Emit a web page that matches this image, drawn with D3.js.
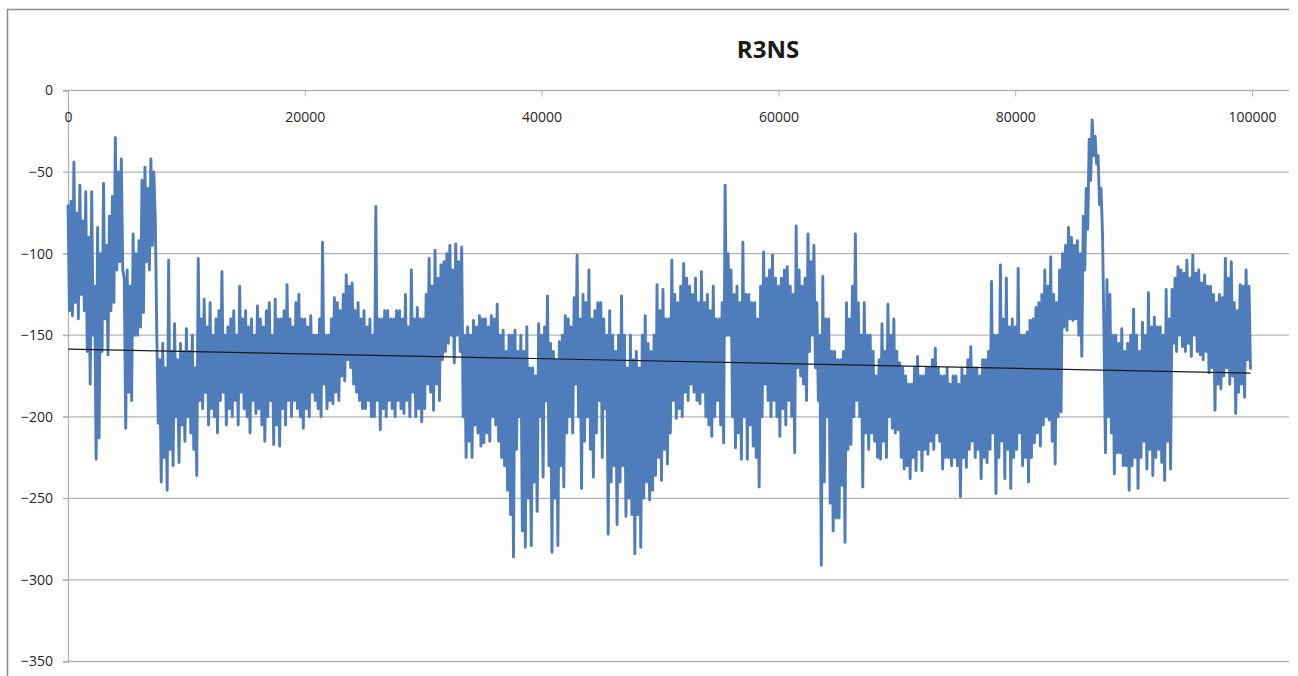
<!DOCTYPE html>
<html>
<head>
<meta charset="utf-8">
<script src="https://cdn.jsdelivr.net/npm/d3@7"></script>
<style>
  body { margin: 0; background: #fff; }
  text { font-family: "Open Sans", "Liberation Sans", sans-serif; }
</style>
</head>
<body>
<svg id="chart"></svg>
<script>
const chartTitle = "R3NS";
const xTicks = [0, 20000, 40000, 60000, 80000, 100000];
const yTicks = [0, -50, -100, -150, -200, -250, -300, -350];

// one reading every 125 samples
const sampleStep = 125;
const r3ns = [
  -70, -135, -68, -138, -44, -130, -75, -140, -58, -125, -80, -135, -62, -160, -90, -180, -62, -150, -120, -226,
  -84, -213, -100, -160, -57, -140, -95, -162, -77, -135, -65, -130, -29, -110, -50, -105, -42, -110, -115, -207,
  -110, -185, -120, -190, -88, -150, -100, -150, -92, -145, -55, -136, -47, -105, -60, -110, -42, -95, -50, -80,
  -150, -204, -165, -240, -155, -225, -170, -245, -104, -220, -160, -230, -143, -200, -165, -228, -155, -205, -160, -215,
  -146, -200, -160, -210, -150, -220, -170, -236, -103, -190, -140, -195, -128, -185, -145, -205, -130, -195, -150, -200,
  -140, -210, -135, -190, -111, -185, -150, -205, -145, -195, -140, -200, -135, -190, -150, -205, -120, -185, -140, -195,
  -135, -200, -145, -210, -140, -190, -150, -198, -132, -195, -140, -205, -145, -215, -135, -200, -130, -190, -150, -217,
  -128, -205, -140, -218, -140, -195, -135, -205, -119, -190, -140, -200, -145, -190, -130, -195, -125, -200, -140, -207,
  -140, -195, -145, -200, -138, -185, -150, -190, -150, -195, -140, -200, -93, -180, -150, -195, -150, -190, -140, -192,
  -127, -185, -130, -190, -135, -175, -125, -178, -113, -165, -120, -170, -118, -180, -135, -185, -130, -190, -140, -195,
  -135, -195, -145, -190, -140, -200, -150, -200, -71, -190, -140, -208, -140, -195, -135, -200, -135, -190, -140, -195,
  -140, -200, -135, -190, -135, -195, -140, -198, -125, -190, -145, -200, -110, -185, -140, -200, -133, -195, -140, -203,
  -140, -195, -125, -180, -103, -185, -120, -196, -98, -180, -115, -190, -107, -165, -105, -160, -100, -155, -95, -150,
  -110, -167, -94, -150, -105, -160, -96, -200, -150, -225, -145, -215, -150, -225, -141, -205, -145, -210, -138, -218,
  -140, -216, -140, -210, -145, -215, -138, -200, -140, -205, -131, -215, -150, -225, -147, -230, -160, -245, -150, -260,
  -150, -286, -147, -220, -160, -200, -150, -270, -160, -280, -145, -250, -170, -279, -170, -240, -175, -258, -143, -200,
  -150, -237, -145, -190, -126, -230, -155, -283, -160, -250, -165, -279, -154, -230, -150, -243, -138, -210, -140, -200,
  -145, -210, -127, -180, -101, -200, -140, -244, -125, -215, -130, -200, -110, -220, -140, -237, -135, -210, -130, -190,
  -130, -225, -140, -195, -150, -272, -135, -240, -150, -230, -160, -266, -150, -240, -126, -230, -150, -261, -170, -250,
  -150, -260, -165, -284, -160, -260, -170, -280, -150, -250, -138, -240, -155, -251, -160, -245, -150, -236, -119, -225,
  -135, -239, -122, -220, -140, -229, -140, -210, -104, -190, -125, -201, -130, -195, -120, -200, -106, -185, -115, -190,
  -120, -180, -125, -185, -115, -190, -130, -192, -111, -185, -130, -200, -125, -205, -135, -212, -120, -200, -140, -190,
  -140, -205, -130, -216, -58, -150, -100, -150, -110, -200, -125, -219, -120, -210, -130, -226, -93, -200, -125, -226,
  -125, -205, -130, -218, -130, -225, -140, -243, -120, -200, -99, -180, -115, -190, -110, -200, -101, -190, -115, -200,
  -120, -212, -115, -195, -110, -205, -108, -190, -120, -200, -125, -222, -83, -170, -110, -175, -120, -180, -115, -190,
  -88, -160, -105, -150, -95, -170, -130, -190, -150, -291, -114, -240, -140, -200, -140, -253, -160, -270, -160, -262,
  -165, -262, -165, -242, -160, -277, -130, -220, -140, -217, -120, -200, -88, -190, -130, -200, -150, -243, -130, -210,
  -150, -220, -150, -210, -160, -215, -175, -225, -165, -226, -143, -215, -160, -225, -131, -200, -150, -207, -140, -210,
  -160, -208, -167, -225, -170, -232, -175, -230, -180, -238, -180, -225, -170, -233, -163, -220, -175, -233, -175, -220,
  -170, -223, -170, -215, -165, -220, -158, -210, -170, -215, -175, -232, -175, -225, -170, -225, -180, -230, -175, -225,
  -175, -230, -180, -249, -170, -225, -175, -231, -165, -220, -157, -215, -170, -225, -170, -220, -175, -238, -165, -225,
  -165, -228, -160, -220, -117, -210, -150, -247, -150, -225, -107, -215, -140, -238, -115, -220, -145, -244, -140, -225,
  -145, -220, -109, -210, -150, -230, -150, -225, -148, -240, -141, -225, -140, -216, -133, -210, -130, -218, -125, -205,
  -110, -200, -120, -202, -102, -215, -125, -229, -130, -200, -110, -197, -100, -145, -95, -147, -84, -140, -90, -141,
  -95, -140, -92, -150, -100, -163, -77, -110, -60, -85, -30, -55, -18, -40, -28, -45, -40, -70, -60, -88,
  -150, -222, -116, -200, -125, -210, -150, -235, -150, -222, -155, -222, -146, -230, -160, -230, -155, -245, -150, -230,
  -134, -225, -150, -244, -160, -225, -142, -215, -150, -232, -124, -220, -145, -236, -139, -225, -145, -220, -145, -228,
  -150, -239, -122, -215, -140, -232, -122, -155, -115, -160, -108, -150, -110, -157, -112, -160, -104, -155, -115, -163,
  -101, -150, -112, -160, -110, -162, -118, -165, -113, -160, -120, -173, -120, -170, -125, -196, -130, -180, -125, -183,
  -127, -175, -103, -170, -115, -180, -105, -175, -130, -198, -135, -185, -119, -180, -120, -188, -110, -165, -120, -171
];

// linear trend line, ends
const trendX = [0, 99875];
const trendY = [-158.5, -173.2];

const W = 1298, H = 676;
const svg = d3.select("#chart").attr("width", W).attr("height", H);

const x = d3.scaleLinear().domain([0, 103125]).range([68, 1289]);
const y = d3.scaleLinear().domain([-350, 0]).range([661.5, 90.5]);

// chart frame (top and left edges visible)
svg.append("path")
  .attr("d", `M7.5,${H} V9.5 H1289`)
  .attr("fill", "none")
  .attr("stroke", "#8c8c8c")
  .attr("stroke-width", 1.5);

// horizontal gridlines
svg.append("g")
  .selectAll("line")
  .data(yTicks)
  .enter().append("line")
  .attr("x1", 63).attr("x2", 1289)
  .attr("y1", d => y(d)).attr("y2", d => y(d))
  .attr("stroke", "#b3b3b3")
  .attr("stroke-width", 1.3);

// y axis
const yAxis = svg.append("g")
  .attr("transform", "translate(68,0)")
  .call(d3.axisLeft(y).tickValues(yTicks).tickSize(5).tickPadding(10).tickFormat(d3.format("d")));
yAxis.select(".domain").attr("stroke", "#b3b3b3").attr("stroke-width", 1.3);
yAxis.selectAll(".tick line").attr("stroke", "#b3b3b3");
yAxis.selectAll("text").attr("fill", "#262626").style("font-size", "14px");

// x axis sits on the zero line, labels below it
const xAxis = svg.append("g")
  .attr("transform", `translate(0,${y(0)})`)
  .call(d3.axisBottom(x).tickValues(xTicks).tickSize(6).tickPadding(16).tickFormat(d3.format("d")));
xAxis.select(".domain").remove();
xAxis.selectAll(".tick line").attr("stroke", "#b3b3b3");
xAxis.selectAll("text").attr("fill", "#262626").style("font-size", "14px");

// data line
const line = d3.line()
  .x((d, i) => x(i * sampleStep))
  .y(d => y(d));

svg.append("path")
  .datum(r3ns)
  .attr("d", line)
  .attr("fill", "none")
  .attr("stroke", "#4f7cba")
  .attr("stroke-width", 2.9)
  .attr("stroke-linejoin", "round");

// trend line
svg.append("line")
  .attr("x1", x(trendX[0])).attr("y1", y(trendY[0]))
  .attr("x2", x(trendX[1])).attr("y2", y(trendY[1]))
  .attr("stroke", "#1a1a1a")
  .attr("stroke-width", 1.2);

// title
svg.append("text")
  .attr("x", 768)
  .attr("y", 58)
  .attr("text-anchor", "middle")
  .style("font-size", "24px")
  .style("font-weight", "bold")
  .attr("fill", "#1a1a1a")
  .text(chartTitle);
</script>
</body>
</html>
